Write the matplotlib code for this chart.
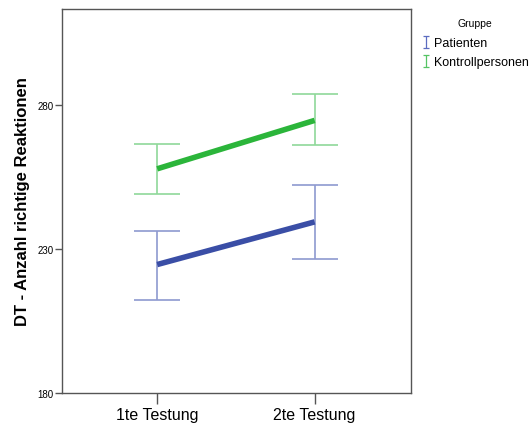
import numpy as np
import matplotlib.pyplot as plt

# Werte
categories = ['1te Testung', '2te Testung']
groups = ['Patienten', 'Kontrollpersonen']
means = {
    'Patienten': [224.6, 239.4],
    'Kontrollpersonen': [257.8, 274.6],
}
upper = {
    'Patienten': [236.3, 252.3],
    'Kontrollpersonen': [266.4, 283.8],
}
lower = {
    'Patienten': [212.2, 226.6],
    'Kontrollpersonen': [248.9, 265.9],
}
yticks = [180, 230, 280]

colors = {'Patienten': '#3a4ea6', 'Kontrollpersonen': '#2bb53a'}
bar_colors = {'Patienten': '#8e9ad0', 'Kontrollpersonen': '#8fd89a'}
legend_colors = {'Patienten': '#5c6cc0', 'Kontrollpersonen': '#55c464'}

plt.rcParams['font.family'] = ['Liberation Sans', 'DejaVu Sans']

fig = plt.figure(figsize=(5.31, 4.27), dpi=100, facecolor='white')
ax = fig.add_axes([0.116, 0.077, 0.658, 0.900])

x = np.arange(len(categories))
handles = []
for g in groups:
    m = np.array(means[g])
    err = np.array([m - np.array(lower[g]), np.array(upper[g]) - m])
    ax.errorbar(x, m, yerr=err, fmt='none', ecolor=bar_colors[g],
                elinewidth=1.2, capsize=16.5, capthick=1.2)
    ax.plot(x, m, color=colors[g], lw=4, solid_capstyle='butt')
    # kleines Symbol nur fuer die Legende
    h = ax.errorbar([np.nan], [np.nan], yerr=[1], fmt='none', ecolor=legend_colors[g],
                    elinewidth=0.9, capsize=2.5, capthick=0.9)
    handles.append(h)

ax.set_xlim(-0.607, 1.612)
ax.set_ylim(180, 313.3)
ax.set_xticks(x)
ax.set_xticklabels(categories, fontsize=11.5)
ax.set_yticks(yticks)
ax.set_yticklabels([str(t) for t in yticks], fontsize=7)
ax.set_ylabel('DT - Anzahl richtige Reaktionen', fontsize=12, fontweight='bold', labelpad=5)

for s in ax.spines.values():
    s.set_color('#555555')
    s.set_linewidth(1)
ax.tick_params(axis='x', length=8, width=1, color='#555555', pad=2)
ax.tick_params(axis='y', length=5, width=1, color='#555555', pad=1)

leg = fig.legend(handles=handles, labels=groups, loc='upper left',
                 bbox_to_anchor=(0.785, 0.968), frameon=False, fontsize=9,
                 title='Gruppe', title_fontsize=7.5, handlelength=0.6,
                 handletextpad=0.35, borderaxespad=0, labelspacing=0.55)
leg._legend_box.sep = 7

fig.savefig('out.png', dpi=100)
